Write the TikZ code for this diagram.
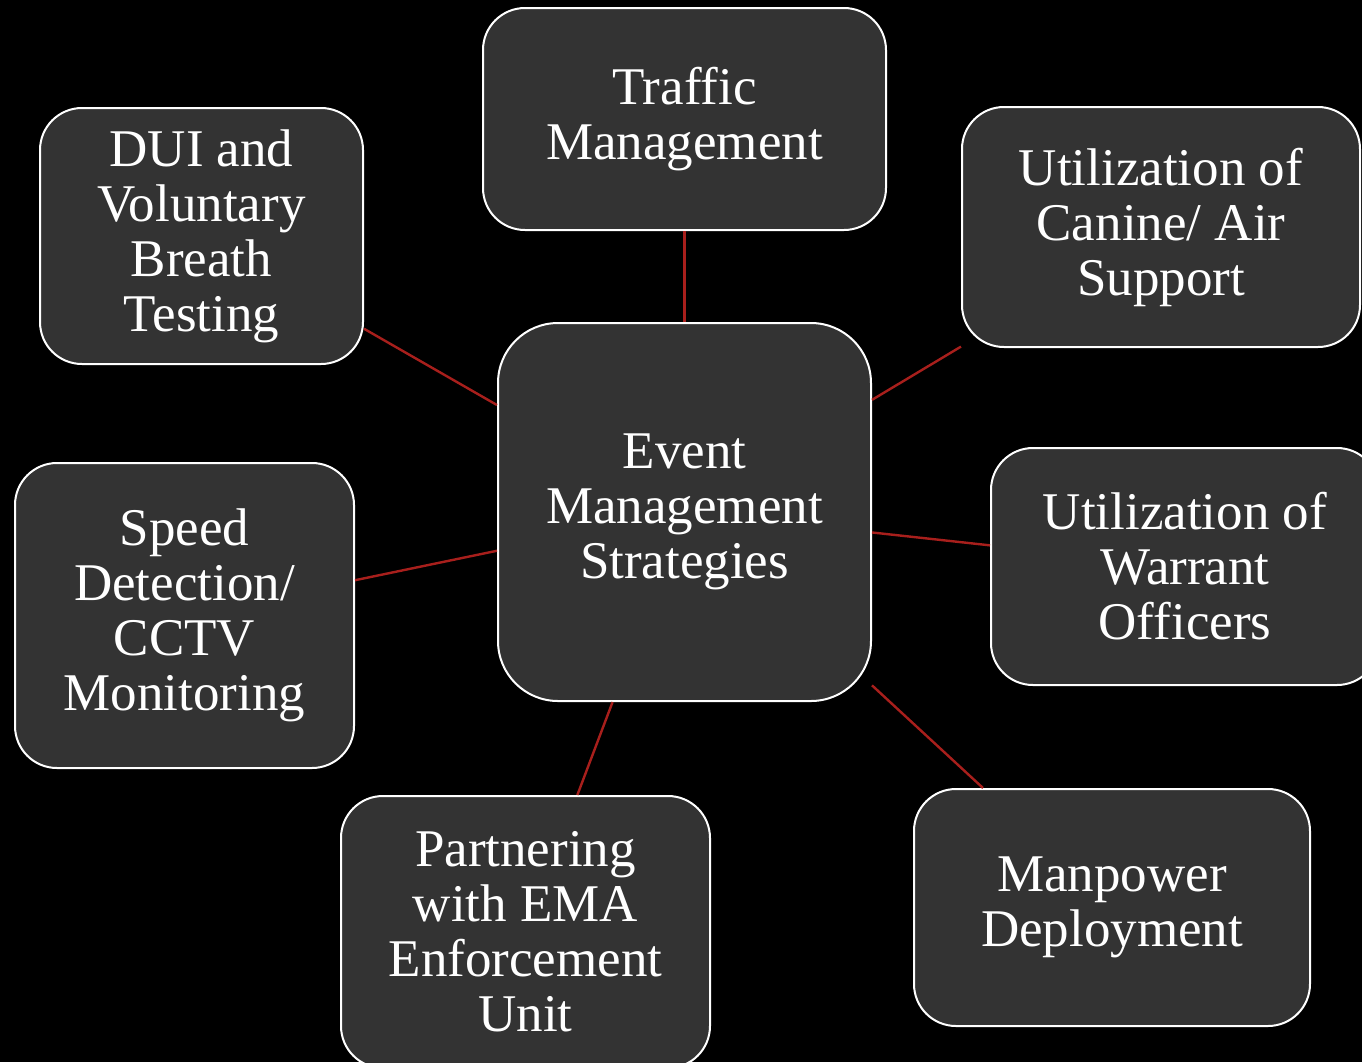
\documentclass[tikz,border=0pt]{standalone}
\usepackage{fontspec}
\setmainfont{Liberation Serif}
\definecolor{boxgray}{HTML}{333333}
\definecolor{linkred}{HTML}{A81F1C}
\tikzset{
  strategy/.style={draw=white, line width=1pt, fill=boxgray, text=white,
    rounded corners=21pt, align=center, inner sep=0pt,
    font=\fontsize{26.5}{27.5}\selectfont},
  link/.style={draw=linkred, line width=1.2pt}
}
\begin{document}
\begin{tikzpicture}[x=0.5pt, y=-0.5pt]
  \fill[black] (0,0) rectangle (1362,1062);
  \useasboundingbox (0,0) rectangle (1362,1062);
  % hub
  \node[strategy, minimum width=186.5pt, minimum height=189pt, rounded corners=30pt]
    (ems) at (684.5,512) {Event\\Management\\Strategies};
  % spokes
  \node[strategy, minimum width=201.5pt, minimum height=111pt]
    (traffic) at (684.5,119) {Traffic\\Management};
  \node[strategy, minimum width=161.5pt, minimum height=128pt]
    (dui) at (201.5,236) {DUI and\\Voluntary\\Breath\\Testing};
  \node[strategy, minimum width=199pt, minimum height=120pt]
    (canine) at (1161,227) {Utilization of\\Canine/ Air\\Support};
  \node[strategy, minimum width=194pt, minimum height=118.5pt]
    (warrant) at (1185,566.5) {Utilization of\\Warrant\\Officers};
  \node[strategy, minimum width=169.5pt, minimum height=152.5pt]
    (speed) at (184.5,615.5) {Speed\\Detection/\\CCTV\\Monitoring};
  \node[strategy, minimum width=184.5pt, minimum height=136pt]
    (ema) at (525.5,932) {Partnering\\with EMA\\Enforcement\\Unit};
  \node[strategy, minimum width=198pt, minimum height=118.5pt]
    (manpower) at (1112,907.5) {Manpower\\Deployment};
  \foreach \spoke in {traffic, dui, canine, warrant, speed, ema, manpower}
    \draw[link] (ems) -- (\spoke);
\end{tikzpicture}
\end{document}
